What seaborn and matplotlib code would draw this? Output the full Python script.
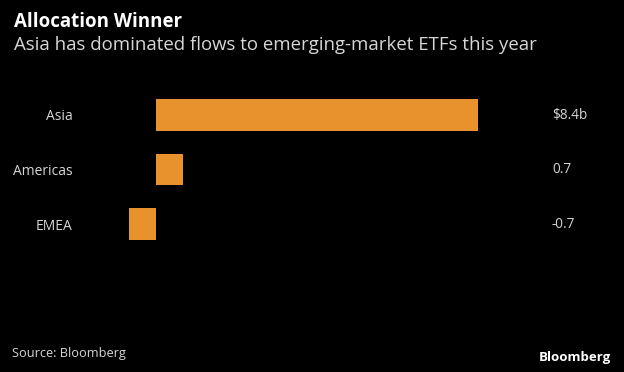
import matplotlib
matplotlib.use("Agg")
import matplotlib.pyplot as plt
import matplotlib.transforms as mtransforms
import pandas as pd
import seaborn as sns

# data
regions = ["Asia", "Americas", "EMEA"]
flows = [8.4, 0.7, -0.7]
value_labels = ["$8.4b", "0.7", "-0.7"]

BG = "#000000"
BAR = "#E8922D"
TXT = "#D6D6D6"

sns.set_theme(style="white")
plt.rcParams["font.family"] = ["Open Sans", "DejaVu Sans"]

df = pd.DataFrame({"region": regions, "flow": flows})

W, H = 624, 372
fig = plt.figure(figsize=(W / 100, H / 100), dpi=100, facecolor=BG)

# axes placed in pixel terms: zero line at x=156, 38.33 px per $1b
px_per = 38.33
x0, x1 = -0.95, 8.7
left_px = 156 + x0 * px_per
width_px = (x1 - x0) * px_per
top_px, bot_px = 82.3, 256.7
ax = fig.add_axes([left_px / W, 1 - bot_px / H, width_px / W, (bot_px - top_px) / H])
ax.set_facecolor(BG)

sns.barplot(data=df, x="flow", y="region", orient="h", color=BAR,
            saturation=1, width=0.57, linewidth=0, ax=ax)

ax.set_xlim(x0, x1)
ax.set_ylim(2.6, -0.6)
ax.set_xlabel("")
ax.set_ylabel("")
ax.set_xticks([])
for s in ax.spines.values():
    s.set_visible(False)
ax.tick_params(axis="y", length=0, pad=34, labelsize=10, labelcolor=TXT)

# value column on the right
trans = mtransforms.blended_transform_factory(fig.transFigure, ax.transData)
for i, lab in enumerate(value_labels):
    ax.text(552 / W, i, lab, transform=trans, ha="left", va="center",
            fontsize=9.8, color=TXT)

fig.text(14 / W, 1 - 22 / H, "Allocation Winner", ha="left", va="center",
         fontsize=13.5, fontweight="bold", color="white")
fig.text(14 / W, 1 - 45 / H,
         "Asia has dominated flows to emerging-market ETFs this year",
         ha="left", va="center", fontsize=13.4, color=TXT)
fig.text(12 / W, 1 - 354 / H, "Source: Bloomberg", ha="left", va="center",
         fontsize=9.2, color=TXT)
fig.text(611 / W, 1 - 357 / H, "Bloomberg", ha="right", va="center",
         fontsize=9.5, fontweight="bold", color="white")

fig.savefig("out.png", dpi=100, facecolor=BG)
